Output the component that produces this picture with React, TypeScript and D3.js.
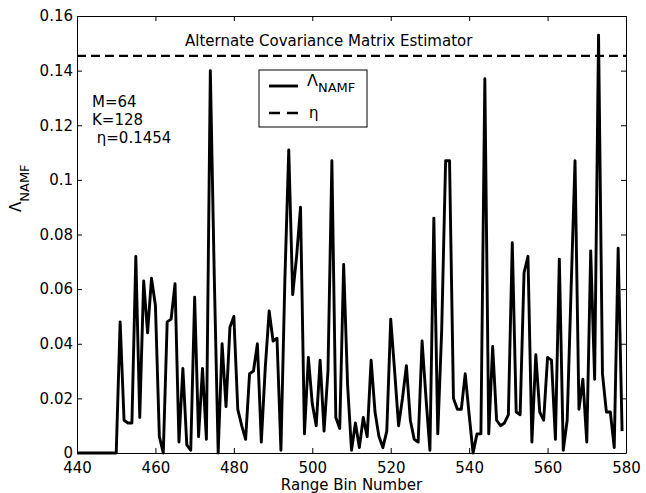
import React, { useEffect, useRef } from "react";
import * as d3 from "d3";

// range bins start here, one value per bin
const FIRST_BIN = 440;
const NAMF_VALUES = [
  0, 0, 0, 0, 0, 0, 0, 0, 0, 0,
  0.000, 0.048, 0.012, 0.011, 0.011, 0.072, 0.013, 0.063, 0.044, 0.064, // 450
  0.054, 0.006, 0.000, 0.048, 0.049, 0.062, 0.004, 0.031, 0.003, 0.001, // 460
  0.057, 0.006, 0.031, 0.005, 0.140, 0.065, 0.000, 0.040, 0.017, 0.046, // 470
  0.050, 0.016, 0.010, 0.005, 0.029, 0.030, 0.040, 0.004, 0.031, 0.052, // 480
  0.041, 0.042, 0.001, 0.063, 0.111, 0.058, 0.072, 0.090, 0.007, 0.035, // 490
  0.018, 0.010, 0.034, 0.008, 0.030, 0.107, 0.013, 0.009, 0.069, 0.025, // 500
  0.001, 0.011, 0.002, 0.013, 0.006, 0.034, 0.015, 0.006, 0.002, 0.008, // 510
  0.049, 0.030, 0.010, 0.020, 0.032, 0.012, 0.005, 0.004, 0.041, 0.020, // 520
  0.001, 0.086, 0.007, 0.045, 0.107, 0.107, 0.020, 0.016, 0.016, 0.029, // 530
  0.014, 0.000, 0.007, 0.007, 0.137, 0.007, 0.039, 0.012, 0.010, 0.011, // 540
  0.014, 0.077, 0.015, 0.014, 0.066, 0.072, 0.004, 0.036, 0.015, 0.012, // 550
  0.035, 0.034, 0.005, 0.071, 0.001, 0.012, 0.060, 0.107, 0.016, 0.027, // 560
  0.004, 0.074, 0.027, 0.153, 0.029, 0.015, 0.015, 0.002, 0.075, 0.008, // 570
];
const ETA = 0.1454;
const X_DOMAIN = [440, 580];
const Y_DOMAIN = [0, 0.16];
const X_TICKS = [440, 460, 480, 500, 520, 540, 560, 580];
const Y_TICKS = [0, 0.02, 0.04, 0.06, 0.08, 0.1, 0.12, 0.14, 0.16];
const PARAM_LINES = ["M=64", "K=128", " η=0.1454"];
const TITLE = "Alternate Covariance Matrix Estimator";
const X_LABEL = "Range Bin Number";

const W = 646;
const H = 493;
const FONT = "DejaVu Sans, Arial, sans-serif";

export default function App() {
  const svgRef = useRef<SVGSVGElement>(null);

  useEffect(() => {
    if (!svgRef.current) return;
    const svg = d3.select(svgRef.current);
    svg.selectAll("*").remove();

    const left = 77, right = 626, top = 16, bottom = 453;

    const x = d3.scaleLinear().domain(X_DOMAIN).range([left, right]);
    const y = d3.scaleLinear().domain(Y_DOMAIN).range([bottom, top]);

    svg.append("rect").attr("width", W).attr("height", H).attr("fill", "#fff");

    // axes, MATLAB style: box on, ticks pointing in
    const styleAxis = (g) => {
      g.attr("font-family", FONT).attr("font-size", 15);
      g.selectAll(".domain").attr("stroke", "#000").attr("stroke-width", 1);
      g.selectAll(".tick line").attr("stroke", "#000").attr("stroke-width", 1);
      g.selectAll(".tick text").attr("fill", "#000");
    };

    svg.append("g")
      .attr("transform", `translate(0,${bottom})`)
      .call(d3.axisBottom(x).tickValues(X_TICKS).tickSizeInner(-5).tickSizeOuter(0).tickPadding(9))
      .call(styleAxis);

    svg.append("g")
      .attr("transform", `translate(0,${top})`)
      .call(d3.axisTop(x).tickValues(X_TICKS).tickSizeInner(-5).tickSizeOuter(0).tickFormat(() => ""))
      .call(styleAxis);

    svg.append("g")
      .attr("transform", `translate(${left},0)`)
      .call(d3.axisLeft(y).tickValues(Y_TICKS).tickSizeInner(-5).tickSizeOuter(0).tickPadding(4)
        .tickFormat(d => String(+(+d).toFixed(2))))
      .call(styleAxis);

    svg.append("g")
      .attr("transform", `translate(${right},0)`)
      .call(d3.axisRight(y).tickValues(Y_TICKS).tickSizeInner(-5).tickSizeOuter(0).tickFormat(() => ""))
      .call(styleAxis);

    // threshold
    svg.append("line")
      .attr("x1", x(X_DOMAIN[0])).attr("x2", x(X_DOMAIN[1]))
      .attr("y1", y(ETA)).attr("y2", y(ETA))
      .attr("stroke", "#000")
      .attr("stroke-width", 2.4)
      .attr("stroke-dasharray", "9,5");

    // test statistic
    const line = d3.line<number>()
      .x((d, i) => x(FIRST_BIN + i))
      .y(d => y(d));

    svg.append("path")
      .datum(NAMF_VALUES)
      .attr("fill", "none")
      .attr("stroke", "#000")
      .attr("stroke-width", 2.9)
      .attr("stroke-linejoin", "round")
      .attr("d", line);

    // annotations
    svg.append("text")
      .attr("x", 185).attr("y", 46)
      .attr("font-family", FONT).attr("font-size", 15)
      .text(TITLE);

    svg.append("g")
      .selectAll("text")
      .data(PARAM_LINES)
      .enter()
      .append("text")
      .attr("x", 92)
      .attr("y", (d, i) => 107 + i * 18)
      .attr("font-family", FONT)
      .attr("font-size", 15)
      .attr("xml:space", "preserve")
      .style("white-space", "pre")
      .text(d => d);

    // legend
    const lg = svg.append("g").attr("font-family", FONT);
    lg.append("rect")
      .attr("x", 259).attr("y", 70).attr("width", 108).attr("height", 57)
      .attr("fill", "#fff").attr("stroke", "#000").attr("stroke-width", 1);
    lg.append("line")
      .attr("x1", 269).attr("x2", 298).attr("y1", 86).attr("y2", 86)
      .attr("stroke", "#000").attr("stroke-width", 2.9);
    const l1 = lg.append("text").attr("x", 307).attr("y", 86).attr("font-size", 16);
    l1.append("tspan").text("Λ");
    l1.append("tspan").attr("dy", 6).attr("font-size", 13).text("NAMF");
    lg.append("line")
      .attr("x1", 269).attr("x2", 298).attr("y1", 113).attr("y2", 113)
      .attr("stroke", "#000").attr("stroke-width", 2.4)
      .attr("stroke-dasharray", "11,7");
    lg.append("text").attr("x", 309).attr("y", 118).attr("font-size", 15).text("η");

    // axis labels
    svg.append("text")
      .attr("x", (left + right) / 2).attr("y", 490)
      .attr("text-anchor", "middle")
      .attr("font-family", FONT).attr("font-size", 15)
      .text(X_LABEL);

    const yl = svg.append("text")
      .attr("transform", "translate(21,212) rotate(-90)")
      .attr("font-family", FONT).attr("font-size", 15);
    yl.append("tspan").text("Λ");
    yl.append("tspan").attr("dy", 8).attr("font-size", 13).text("NAMF");
  }, []);

  return (
    <svg
      ref={svgRef}
      width={W}
      height={H}
      style={{ position: "absolute", left: 0, top: 0, display: "block" }}
    />
  );
}
